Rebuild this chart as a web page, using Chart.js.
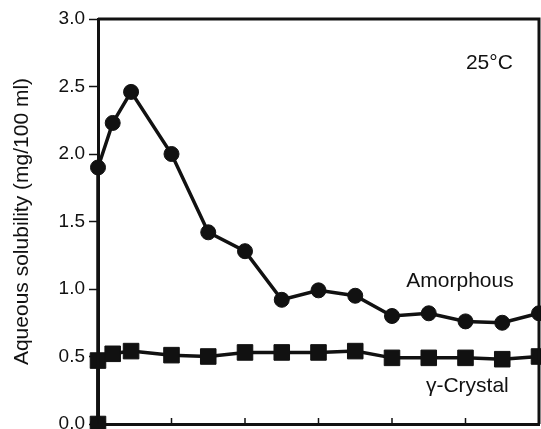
<!DOCTYPE html>
<html>
<head>
<meta charset="utf-8">
<script src="https://cdn.jsdelivr.net/npm/chart.js@4/dist/chart.umd.min.js"></script>
<style>
  html, body { margin: 0; padding: 0; background: #fff; }
  #wrap { width: 541px; height: 429px; }
</style>
</head>
<body>
<div id="wrap"><canvas id="chart"></canvas></div>
<script>
// sampling times (x) and measured solubility for each form
const times = [0, 0, 0.4, 0.9, 2, 3, 4, 5, 6, 7, 8, 9, 10, 11, 12];
const amorphous = [0, 1.90, 2.23, 2.46, 2.00, 1.42, 1.28, 0.92, 0.99, 0.95, 0.80, 0.82, 0.76, 0.75, 0.82];
const crystal = [0, 0.47, 0.52, 0.54, 0.51, 0.50, 0.53, 0.53, 0.53, 0.54, 0.49, 0.49, 0.49, 0.48, 0.50];
const yTicks = [0, 0.5, 1.0, 1.5, 2.0, 2.5, 3.0];
const xTicks = [0, 2, 4, 6, 8, 10, 12];

const ink = "#111";
const face = "'Liberation Sans', Arial, sans-serif";

// free text labels inside the plot, placed in data units
const notes = [
  { text: "25°C", x: 10.65, y: 2.67 },
  { text: "Amorphous", x: 9.85, y: 1.06 },
  { text: "γ-Crystal", x: 10.05, y: 0.28 },
];

const toPoints = (ys) => ys.map((v, i) => ({ x: times[i], y: v }));

const framePlugin = {
  id: "frame",
  afterDraw(chart) {
    const { ctx, chartArea: a, scales } = chart;
    ctx.save();
    ctx.strokeStyle = ink;
    ctx.lineWidth = 3;
    ctx.beginPath();
    ctx.moveTo(a.left, a.top);
    ctx.lineTo(a.right, a.top);
    ctx.lineTo(a.right, a.bottom);
    ctx.stroke();
    // short inward ticks on the bottom axis
    ctx.lineWidth = 1.5;
    xTicks.forEach((t) => {
      const px = scales.x.getPixelForValue(t);
      ctx.beginPath();
      ctx.moveTo(px, a.bottom);
      ctx.lineTo(px, a.bottom - 6);
      ctx.stroke();
    });
    ctx.fillStyle = ink;
    ctx.font = "21px " + face;
    ctx.textAlign = "center";
    ctx.textBaseline = "middle";
    notes.forEach((n) => {
      ctx.fillText(n.text, scales.x.getPixelForValue(n.x), scales.y.getPixelForValue(n.y));
    });
    ctx.restore();
  },
};

new Chart(document.getElementById("chart"), {
  type: "line",
  data: {
    datasets: [
      {
        label: "Amorphous",
        data: toPoints(amorphous),
        borderColor: ink,
        backgroundColor: ink,
        borderWidth: 3.5,
        pointStyle: "circle",
        pointRadius: 7.5,
        pointBorderWidth: 1,
        tension: 0,
        clip: false,
      },
      {
        label: "γ-Crystal",
        data: toPoints(crystal),
        borderColor: ink,
        backgroundColor: ink,
        borderWidth: 3.5,
        pointStyle: "rect",
        pointRadius: 11,
        pointBorderWidth: 1,
        tension: 0,
        clip: false,
      },
    ],
  },
  options: {
    responsive: true,
    maintainAspectRatio: false,
    animation: false,
    layout: { autoPadding: false, padding: { top: 19, right: 2, bottom: 0, left: 0 } },
    plugins: {
      legend: { display: false },
      tooltip: { enabled: false },
    },
    scales: {
      x: {
        type: "linear",
        min: 0,
        max: 12,
        afterBuildTicks: (scale) => { scale.ticks = xTicks.map((v) => ({ value: v })); },
        ticks: { display: false },
        grid: { display: false },
        border: { display: true, color: ink, width: 3 },
        afterFit: (scale) => { scale.height = 5; },
      },
      y: {
        min: 0,
        max: 3,
        afterBuildTicks: (scale) => { scale.ticks = yTicks.map((v) => ({ value: v })); },
        ticks: {
          color: ink,
          padding: 4,
          font: { family: face, size: 19 },
          callback: (v) => Number(v).toFixed(1),
        },
        grid: { drawOnChartArea: false, tickLength: 9, tickWidth: 1.5, tickColor: ink },
        border: { display: true, color: ink, width: 3 },
        title: {
          display: true,
          text: "Aqueous solubility (mg/100 ml)",
          color: ink,
          padding: { top: 10, bottom: 0 },
          font: { family: face, size: 21 },
        },
        afterFit: (scale) => {
          scale.width = 98;
          scale.paddingTop = 0;
          scale.paddingBottom = 0;
        },
      },
    },
  },
  plugins: [framePlugin],
});
</script>
</body>
</html>
